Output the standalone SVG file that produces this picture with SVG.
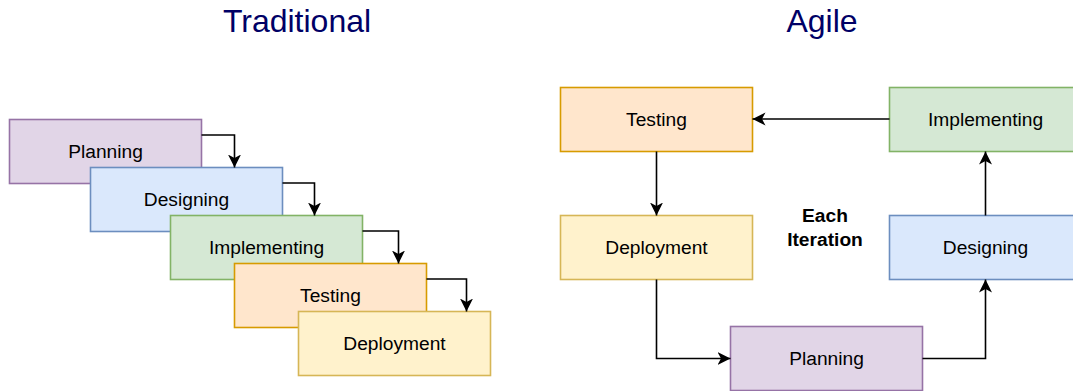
<svg xmlns="http://www.w3.org/2000/svg" width="1073" height="391" viewBox="0 0 1073 391">
<style>
.t{font-family:"Liberation Sans",Arial,sans-serif;font-size:19.2px;fill:#000;text-anchor:middle;dominant-baseline:central}
.h{font-family:"Liberation Sans",Arial,sans-serif;font-size:32px;fill:#000066;text-anchor:middle}
.b{font-family:"Liberation Sans",Arial,sans-serif;font-size:19.2px;font-weight:bold;fill:#000;text-anchor:middle}
.c{fill:none;stroke:#000;stroke-width:1.6}
.pl{fill:#e1d5e7;stroke:#9673a6;stroke-width:1.6}
.de{fill:#dae8fc;stroke:#6c8ebf;stroke-width:1.6}
.im{fill:#d5e8d4;stroke:#82b366;stroke-width:1.6}
.te{fill:#ffe6cc;stroke:#d79b00;stroke-width:1.6}
.dp{fill:#fff2cc;stroke:#d6b656;stroke-width:1.6}
</style>
<defs>
<marker id="a" markerUnits="userSpaceOnUse" markerWidth="14" markerHeight="14" refX="13" refY="6.5" orient="auto" viewBox="0 0 14 14">
<path d="M0,0 L13,6.5 L0,13 L3.5,6.5 Z" fill="#000"/>
</marker>
</defs>
<text class="h" x="297" y="32">Traditional</text>
<text class="h" x="822" y="32">Agile</text>
<g id="trad-planning"><rect class="pl" x="9.5" y="119.5" width="192" height="64"/><text class="t" x="105.5" y="151.5">Planning</text></g>
<g id="trad-designing"><rect class="de" x="90.5" y="167.5" width="192" height="64"/><text class="t" x="186.5" y="199.5">Designing</text></g>
<g id="trad-implementing"><rect class="im" x="170.5" y="215.5" width="192" height="64"/><text class="t" x="266.5" y="247.5">Implementing</text></g>
<g id="trad-testing"><rect class="te" x="234.5" y="263.5" width="192" height="64"/><text class="t" x="330.5" y="295.5">Testing</text></g>
<g id="trad-deployment"><rect class="dp" x="298.5" y="311.5" width="192" height="64"/><text class="t" x="394.5" y="343.5">Deployment</text></g>
<g id="agile-testing"><rect class="te" x="560.5" y="87.5" width="192" height="64"/><text class="t" x="656.5" y="119.5">Testing</text></g>
<g id="agile-implementing"><rect class="im" x="889.5" y="87.5" width="192" height="64"/><text class="t" x="985.5" y="119.5">Implementing</text></g>
<g id="agile-deployment"><rect class="dp" x="560.5" y="215.5" width="192" height="64"/><text class="t" x="656.5" y="247.5">Deployment</text></g>
<g id="agile-designing"><rect class="de" x="889.5" y="215.5" width="192" height="64"/><text class="t" x="985.5" y="247.5">Designing</text></g>
<g id="agile-planning"><rect class="pl" x="730.5" y="326.5" width="192" height="64"/><text class="t" x="826.5" y="358.5">Planning</text></g>
<g id="each-iteration"><text class="b" x="825" y="222">Each</text><text class="b" x="825" y="246">Iteration</text></g>
<g id="connectors">
<path class="c" d="M201.5,135 H234.5 V167.5" marker-end="url(#a)"/>
<path class="c" d="M282.5,183 H314.5 V215.5" marker-end="url(#a)"/>
<path class="c" d="M362.5,231 H398.5 V263.5" marker-end="url(#a)"/>
<path class="c" d="M426.5,279 H466.5 V311.5" marker-end="url(#a)"/>
<path class="c" d="M889.5,119 H752.5" marker-end="url(#a)"/>
<path class="c" d="M656.5,151.5 V215.5" marker-end="url(#a)"/>
<path class="c" d="M656.5,279.5 V358.5 H730.5" marker-end="url(#a)"/>
<path class="c" d="M922.5,358.5 H985.5 V279.5" marker-end="url(#a)"/>
<path class="c" d="M985.5,215.5 V151.5" marker-end="url(#a)"/>
</g>
</svg>
